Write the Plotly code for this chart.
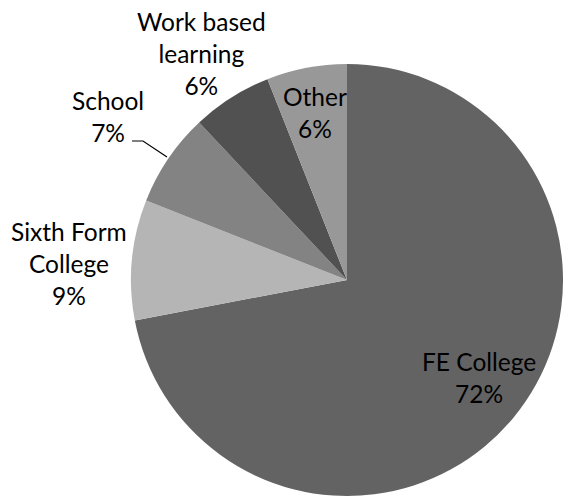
import plotly.graph_objects as go

# Destinations share (percent)
labels = ["FE College", "Sixth Form College", "School", "Work based learning", "Other"]
values = [72, 9, 7, 6, 6]
display_labels = ["FE College", "Sixth Form<br>College", "School", "Work based<br>learning", "Other"]

colors = ["#636363", "#b5b5b5", "#838383", "#515151", "#989898"]

W, H = 563, 501

# pie centre / radius in page pixels
cx, cy, r = 347, 280, 216

# label centres in page pixels (x from left, y from top)
label_pos = [(479, 377), (69, 263), (108, 116), (201, 54), (315, 113)]


def px(x):
    return x / W


def py(y):
    return 1 - y / H


fig = go.Figure()

fig.add_trace(
    go.Pie(
        labels=labels,
        values=values,
        sort=False,
        direction="clockwise",
        rotation=0,
        marker=dict(colors=colors, line=dict(width=0)),
        textinfo="none",
        hoverinfo="label+percent",
        domain=dict(x=[px(cx - r), px(cx + r)], y=[py(cy + r), py(cy - r)]),
        showlegend=False,
    )
)

total = sum(values)
for lab, val, (lx, ly) in zip(display_labels, values, label_pos):
    fig.add_annotation(
        x=px(lx),
        y=py(ly),
        xref="paper",
        yref="paper",
        text=f"{lab}<br>{round(100 * val / total)}%",
        showarrow=False,
        xanchor="center",
        yanchor="middle",
        align="center",
        font=dict(family="Lato", size=24.5, color="black"),
    )

# leader line for the School label
fig.add_shape(
    type="path",
    path=f"M {px(132)} {py(141)} L {px(143)} {py(141)} L {px(167)} {py(157)}",
    xref="paper",
    yref="paper",
    line=dict(color="black", width=1.2),
)

fig.update_layout(
    width=W,
    height=H,
    margin=dict(l=0, r=0, t=0, b=0),
    paper_bgcolor="white",
    plot_bgcolor="white",
)

fig.write_html(
    "out.html",
    config={"displayModeBar": False},
    post_script="document.body.style.margin='0';document.body.style.overflow='hidden';",
)
